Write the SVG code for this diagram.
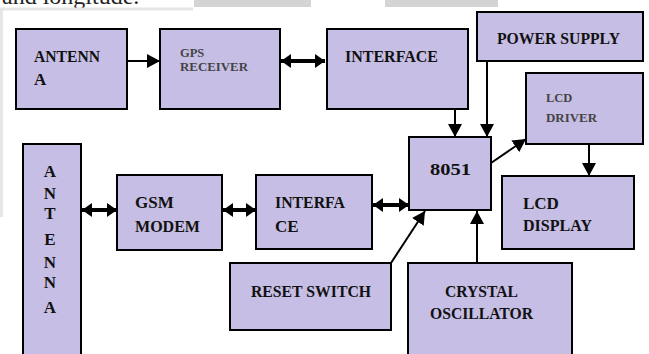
<svg xmlns="http://www.w3.org/2000/svg" width="649" height="354" viewBox="0 0 649 354">
<style>
.box{fill:#c6bee4;stroke:#000;stroke-width:2}
.t{font-family:"Liberation Serif","Times New Roman",serif;font-weight:bold;fill:#111;font-size:17px}
.s{font-size:12.5px;fill:#444}
.ln{stroke:#000;stroke-width:2;fill:none}
.dl{stroke:#000;stroke-width:4;fill:none}
</style>
<defs>
<marker id="ah" markerUnits="userSpaceOnUse" markerWidth="14" markerHeight="14" refX="13" refY="7" orient="auto"><path d="M0,0 L13,7 L0,14 z" fill="#000"/></marker>
<marker id="dh" markerUnits="userSpaceOnUse" markerWidth="11" markerHeight="14" refX="10" refY="7" orient="auto-start-reverse"><path d="M0,0 L10,7 L0,14 z" fill="#000"/></marker>
</defs>
<rect width="649" height="354" fill="#fff"/>
<g id="page">
<text x="2" y="4" font-family="Liberation Serif,serif" font-size="24" fill="#222">and longitude.</text>
<rect x="194" y="0" width="117" height="7" fill="#d4d4d4"/>
<rect x="385" y="0" width="113" height="7" fill="#d4d4d4"/>
<path d="M1.5,217 V9 H193" stroke="#e6e6e6" stroke-width="3" fill="none"/>
</g>
<g id="connectors">
<line class="ln" x1="127" y1="61" x2="160" y2="61" marker-end="url(#ah)"/>
<line class="dl" x1="281" y1="61" x2="325" y2="61" marker-start="url(#dh)" marker-end="url(#dh)"/>
<line class="ln" x1="455" y1="109" x2="455" y2="137" marker-end="url(#ah)"/>
<line class="ln" x1="487" y1="61" x2="487" y2="137" stroke="#555" marker-end="url(#ah)"/>
<line class="ln" x1="491" y1="163" x2="526" y2="139" marker-end="url(#ah)"/>
<line class="ln" x1="589" y1="144" x2="589" y2="176" marker-end="url(#ah)"/>
<line class="dl" x1="82" y1="210" x2="117" y2="210" marker-start="url(#dh)" marker-end="url(#dh)"/>
<line class="dl" x1="223" y1="210" x2="256" y2="210" marker-start="url(#dh)" marker-end="url(#dh)"/>
<line class="dl" x1="373" y1="205" x2="409" y2="205" marker-start="url(#dh)" marker-end="url(#dh)"/>
<line class="ln" x1="391" y1="263" x2="425" y2="211" marker-end="url(#ah)"/>
<line class="ln" x1="477" y1="263" x2="477" y2="211" marker-end="url(#ah)"/>
</g>
<g id="antenna1"><rect class="box" x="16" y="29" width="111" height="80"/>
<text class="t" x="34" y="62" textLength="66" lengthAdjust="spacingAndGlyphs">ANTENN</text><text class="t" x="34" y="85">A</text></g>
<g id="gps"><rect class="box" x="160" y="29" width="120" height="80"/>
<text class="t s" x="180" y="57">GPS</text><text class="t s" x="180" y="71" textLength="68" lengthAdjust="spacingAndGlyphs">RECEIVER</text></g>
<g id="interface1"><rect class="box" x="327" y="29" width="141" height="80"/>
<text class="t" x="345" y="62" textLength="93" lengthAdjust="spacingAndGlyphs">INTERFACE</text></g>
<g id="power"><rect class="box" x="477" y="12" width="166" height="49"/>
<text class="t" x="497" y="44" textLength="123" lengthAdjust="spacingAndGlyphs">POWER SUPPLY</text></g>
<g id="lcddriver"><rect class="box" x="526" y="73" width="117" height="71"/>
<text class="t s" x="546" y="102">LCD</text><text class="t s" x="546" y="122" textLength="51" lengthAdjust="spacingAndGlyphs">DRIVER</text></g>
<g id="mcu"><rect class="box" x="409" y="137" width="82" height="73"/>
<text class="t" x="430" y="175" font-size="23" fill="#222" textLength="41" lengthAdjust="spacingAndGlyphs">8051</text></g>
<g id="lcddisplay"><rect class="box" x="502" y="176" width="132" height="73"/>
<text class="t" x="523" y="209">LCD</text><text class="t" x="523" y="231" textLength="69" lengthAdjust="spacingAndGlyphs">DISPLAY</text></g>
<g id="antenna2"><rect class="box" x="23" y="144" width="58" height="215"/>
<g class="t" font-size="15" text-anchor="middle">
<text x="50" y="177">A</text><text x="50" y="199">N</text><text x="50" y="219">T</text><text x="50" y="245">E</text><text x="50" y="268">N</text><text x="50" y="288">N</text><text x="50" y="313">A</text></g></g>
<g id="gsm"><rect class="box" x="117" y="175" width="105" height="75"/>
<text class="t" x="135" y="208">GSM</text><text class="t" x="135" y="232" textLength="65" lengthAdjust="spacingAndGlyphs">MODEM</text></g>
<g id="interface2"><rect class="box" x="256" y="175" width="116" height="74"/>
<text class="t" x="275" y="208" textLength="70" lengthAdjust="spacingAndGlyphs">INTERFA</text><text class="t" x="275" y="232">CE</text></g>
<g id="reset"><rect class="box" x="230" y="263" width="161" height="67"/>
<text class="t" x="251" y="297" textLength="120" lengthAdjust="spacingAndGlyphs">RESET SWITCH</text></g>
<g id="crystal"><rect class="box" x="408" y="263" width="164" height="100"/>
<text class="t" x="445" y="297" textLength="73" lengthAdjust="spacingAndGlyphs">CRYSTAL</text><text class="t" x="430" y="319" textLength="103" lengthAdjust="spacingAndGlyphs">OSCILLATOR</text></g>
</svg>
